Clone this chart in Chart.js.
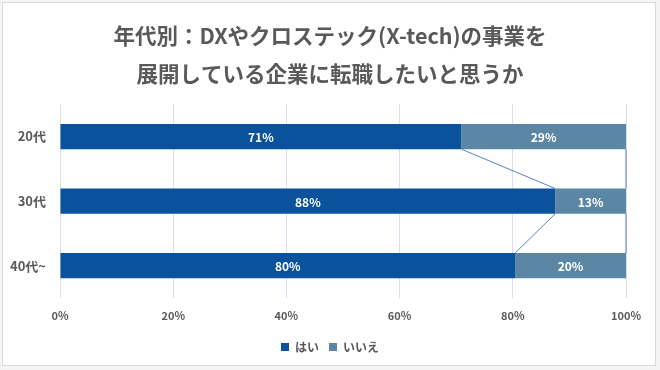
<!DOCTYPE html>
<html>
<head>
<meta charset="utf-8">
<script src="https://cdn.jsdelivr.net/npm/chart.js@4.4.1/dist/chart.umd.min.js"></script>
<style>
  body { margin: 0; background: #f4f4f4; }
  #wrap { position: relative; width: 660px; height: 370px; }
  #frame {
    position: absolute; left: 2px; top: 2px; width: 654px; height: 364px;
    border: 1px solid #d9d9d9; background: #fff; box-sizing: border-box;
  }
  canvas { position: absolute; left: 0; top: 0; }
</style>
</head>
<body>
<div id="wrap">
  <div id="frame"></div>
  <canvas id="chart" width="660" height="370"></canvas>
</div>
<script>
const titleLines = ["年代別：DXやクロステック(X-tech)の事業を", "展開している企業に転職したいと思うか"];
const ageGroups = ["20代", "30代", "40代~"];
const yesValues = [70.9, 87.5, 80.4];
const noValues = [29.1, 12.5, 19.6];
const xTicks = [0, 20, 40, 60, 80, 100];

const fontFamily = "'Noto Sans CJK JP', 'Noto Sans', sans-serif";
const textGray = "#595959";

// Excel style series lines between stacked bars
const seriesLines = {
  id: "seriesLines",
  afterDatasetsDraw(chart) {
    const c = chart.ctx;
    c.save();
    c.strokeStyle = "#5b7fd0";
    c.lineWidth = 1;
    chart.data.datasets.forEach((ds, d) => {
      const bars = chart.getDatasetMeta(d).data;
      for (let i = 0; i < bars.length - 1; i++) {
        const a = bars[i], b = bars[i + 1];
        c.beginPath();
        c.moveTo(a.x, a.y + a.height / 2);
        c.lineTo(b.x, b.y - b.height / 2);
        c.stroke();
      }
    });
    c.restore();
  }
};

const barLabels = {
  id: "barLabels",
  afterDatasetsDraw(chart) {
    const c = chart.ctx;
    c.save();
    c.fillStyle = "#fff";
    c.font = "bold 12px " + fontFamily;
    c.textAlign = "center";
    c.textBaseline = "middle";
    chart.data.datasets.forEach((ds, d) => {
      chart.getDatasetMeta(d).data.forEach((bar, i) => {
        c.fillText(Math.round(ds.data[i]) + "%", (bar.x + bar.base) / 2, bar.y + 1);
      });
    });
    c.restore();
  }
};

new Chart(document.getElementById("chart"), {
  type: "bar",
  data: {
    labels: ageGroups,
    datasets: [
      { label: "はい", data: yesValues, backgroundColor: "#0a539c" },
      { label: "いいえ", data: noValues, backgroundColor: "#5b87a5" }
    ]
  },
  options: {
    indexAxis: "y",
    responsive: false,
    animation: false,
    categoryPercentage: 1,
    barPercentage: 0.39,
    layout: { padding: { left: 0, right: 0, top: 0, bottom: 7 } },
    plugins: {
      title: {
        display: true,
        text: titleLines,
        color: textGray,
        font: { family: fontFamily, size: 21.5, weight: "bold", lineHeight: 1.75 },
        padding: { top: 17, bottom: 12 }
      },
      legend: {
        position: "bottom",
        labels: {
          color: textGray,
          boxWidth: 8,
          boxHeight: 8,
          padding: 10,
          font: { family: fontFamily, size: 12, weight: "bold" }
        }
      },
      tooltip: { enabled: false }
    },
    scales: {
      x: {
        stacked: true,
        min: 0,
        max: 100,
        afterBuildTicks: s => { s.ticks = xTicks.map(v => ({ value: v })); },
        afterFit: s => { s.height = 33; s.paddingLeft = 0; s.paddingRight = 34; },
        ticks: {
          color: textGray,
          padding: 11,
          font: { family: fontFamily, size: 11, weight: "bold" },
          callback: v => v + "%"
        },
        grid: { color: "#d9dff0", drawTicks: false },
        border: { display: false }
      },
      y: {
        stacked: true,
        afterFit: s => { s.width = 60; },
        ticks: {
          color: textGray,
          padding: 14,
          font: { family: fontFamily, size: 13, weight: "bold" }
        },
        grid: { display: false, drawTicks: false },
        border: { display: false }
      }
    }
  },
  plugins: [seriesLines, barLabels]
});
</script>
</body>
</html>
